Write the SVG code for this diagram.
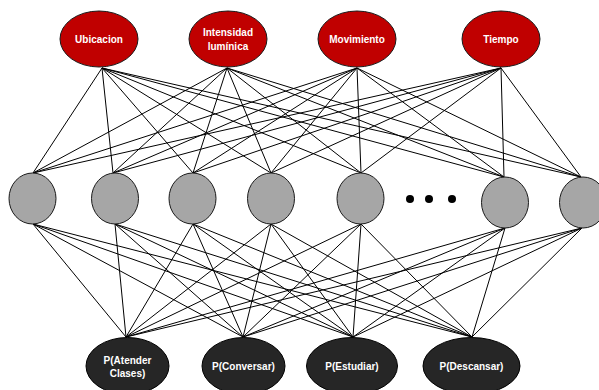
<svg xmlns="http://www.w3.org/2000/svg" width="599" height="390" viewBox="0 0 599 390">
  <style>
    .link { stroke: #000; stroke-width: 1; fill: none; }
    .input { fill: #C00000; stroke: #1a1a1a; stroke-width: 1; }
    .hidden { fill: #A6A6A6; stroke: #1a1a1a; stroke-width: 1; }
    .output { fill: #262626; stroke: #000; stroke-width: 1; }
    .lbl { font-family: "Liberation Sans", Arial, sans-serif; font-weight: bold; font-size: 10px; fill: #fff; text-anchor: middle; }
    .dot { fill: #000; }
  </style>
  <rect width="599" height="390" fill="#fff"/>

  <!-- connectors: inputs to hidden layer, hidden layer to outputs -->
  <g id="connectors" class="link">
    <!-- Ubicacion -->
    <path d="M102 68L33 173M102 68L113 173M102 68L193 173M102 68L271 173M102 68L361 173M102 68L504 177M102 68L581 177"/>
    <!-- Intensidad luminica -->
    <path d="M227 68L33 173M227 68L113 173M227 68L193 173M227 68L271 173M227 68L361 173M227 68L504 177M227 68L581 177"/>
    <!-- Movimiento -->
    <path d="M357 68L33 173M357 68L113 173M357 68L193 173M357 68L271 173M357 68L361 173M357 68L504 177M357 68L581 177"/>
    <!-- Tiempo -->
    <path d="M501 68L33 173M501 68L113 173M501 68L193 173M501 68L271 173M501 68L361 173M501 68L504 177M501 68L581 177"/>
    <!-- P(Atender Clases) -->
    <path d="M126 337L33 224M126 337L115 224M126 337L193 224M126 337L271 224M126 337L361 224M126 337L505 228M126 337L582 228"/>
    <!-- P(Conversar) -->
    <path d="M243 337L33 224M243 337L115 224M243 337L193 224M243 337L271 224M243 337L361 224M243 337L505 228M243 337L582 228"/>
    <!-- P(Estudiar) -->
    <path d="M353 337L33 224M353 337L115 224M353 337L193 224M353 337L271 224M353 337L361 224M353 337L505 228M353 337L582 228"/>
    <!-- P(Descansar) -->
    <path d="M472 337L33 224M472 337L115 224M472 337L193 224M472 337L271 224M472 337L361 224M472 337L505 228M472 337L582 228"/>
  </g>

  <!-- input layer -->
  <g id="in-ubicacion">
    <ellipse class="input" cx="99" cy="39" rx="39" ry="28"/>
    <text class="lbl" x="99" y="42.5">Ubicacion</text>
  </g>
  <g id="in-intensidad">
    <ellipse class="input" cx="228" cy="39" rx="39" ry="28"/>
    <text class="lbl" x="228" y="35.5">Intensidad</text>
    <text class="lbl" x="228" y="49.5">lumínica</text>
  </g>
  <g id="in-movimiento">
    <ellipse class="input" cx="357" cy="39" rx="39" ry="28"/>
    <text class="lbl" x="357" y="42.5">Movimiento</text>
  </g>
  <g id="in-tiempo">
    <ellipse class="input" cx="501" cy="39" rx="39" ry="28"/>
    <text class="lbl" x="501" y="42.5">Tiempo</text>
  </g>

  <!-- hidden layer -->
  <g id="h1"><ellipse class="hidden" cx="32.5" cy="198.5" rx="23.5" ry="25.5"/></g>
  <g id="h2"><ellipse class="hidden" cx="115" cy="198.5" rx="23.5" ry="25.5"/></g>
  <g id="h3"><ellipse class="hidden" cx="192.5" cy="198.5" rx="23.5" ry="25.5"/></g>
  <g id="h4"><ellipse class="hidden" cx="271" cy="198.5" rx="23.5" ry="25.5"/></g>
  <g id="h5"><ellipse class="hidden" cx="360.5" cy="198.5" rx="23.5" ry="25.5"/></g>
  <g id="ellipsis">
    <circle class="dot" cx="410" cy="199" r="4"/>
    <circle class="dot" cx="429" cy="199" r="4"/>
    <circle class="dot" cx="452" cy="199" r="4"/>
  </g>
  <g id="h6"><ellipse class="hidden" cx="505" cy="202.5" rx="23.5" ry="25.5"/></g>
  <g id="h7"><ellipse class="hidden" cx="583" cy="202.5" rx="23.5" ry="25.5"/></g>

  <!-- output layer -->
  <g id="out-atender">
    <ellipse class="output" cx="127.5" cy="366" rx="41.5" ry="28.5"/>
    <text class="lbl" x="127.5" y="363.5">P(Atender</text>
    <text class="lbl" x="127.5" y="377">Clases)</text>
  </g>
  <g id="out-conversar">
    <ellipse class="output" cx="243.5" cy="366" rx="41.5" ry="28.5"/>
    <text class="lbl" x="243.5" y="370">P(Conversar)</text>
  </g>
  <g id="out-estudiar">
    <ellipse class="output" cx="352" cy="366" rx="45.5" ry="28.5"/>
    <text class="lbl" x="352" y="370">P(Estudiar)</text>
  </g>
  <g id="out-descansar">
    <ellipse class="output" cx="471.5" cy="366" rx="48.5" ry="28.5"/>
    <text class="lbl" x="471.5" y="370">P(Descansar)</text>
  </g>
</svg>
